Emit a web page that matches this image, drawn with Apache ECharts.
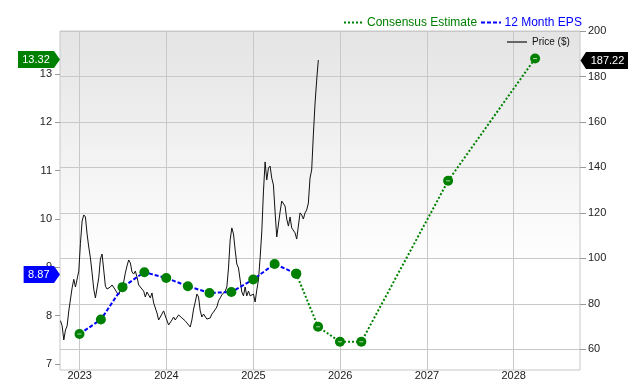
<!DOCTYPE html>
<html><head><meta charset="utf-8">
<script src="https://cdn.jsdelivr.net/npm/echarts@6/dist/echarts.min.js"></script>
<style>html,body{margin:0;padding:0;background:#fff}#c{width:640px;height:380px}</style>
</head><body><div id="c"></div>
<script>
// ---------- data ----------
const yearTicks = [2023, 2024, 2025, 2026, 2027, 2028];
const leftTicks = [7, 8, 9, 10, 11, 12, 13];
const rightTicks = [60, 80, 100, 120, 140, 160, 180, 200];

const epsDates = ['2022-12-31','2023-03-31','2023-06-30','2023-09-30','2023-12-31','2024-03-31','2024-06-30','2024-09-30','2024-12-31','2025-03-31','2025-06-30'];
const epsValues = [7.62, 7.92, 8.59, 8.90, 8.78, 8.61, 8.47, 8.49, 8.75, 9.07, 8.87];

const estDates = ['2025-06-30','2025-09-30','2025-12-31','2026-03-31','2027-03-31','2028-03-31'];
const estValues = [8.87, 7.77, 7.46, 7.46, 10.79, 13.32];

const priceStart = '2022-10-12'; // weekly closes
const priceValues = [
72.6, 70.3, 64.1, 68.5, 70.3, 76.9, 77.7, 87.0, 90.8, 87.4,
86.8, 94.4, 106.6, 116.4, 119.1, 118.2, 110.7, 105.0, 100.2, 93.6,
86.5, 82.6, 82.6, 91.4, 99.7, 101.9, 94.9, 87.8, 86.5, 86.1,
87.4, 88.3, 88.3, 86.1, 84.8, 83.9, 86.1, 86.5, 89.6, 93.6,
96.7, 99.3, 98.0, 94.0, 93.1, 94.4, 91.8, 88.3, 88.7, 86.5,
85.6, 83.0, 85.2, 85.2, 82.6, 84.8, 80.4, 80.0, 76.0, 72.9,
74.2, 74.7, 76.9, 74.7, 74.7, 70.7, 71.1, 72.9, 74.2, 72.9,
73.3, 75.1, 75.1, 73.8, 73.3, 72.5, 71.6, 71.1, 69.8, 72.9,
77.7, 80.8, 84.3, 83.0, 76.9, 74.2, 75.5, 75.1, 73.3, 72.5,
73.8, 75.5, 76.4, 76.0, 78.6, 81.3, 82.6, 83.9, 84.3, 85.6,
87.4, 95.8, 108.1, 113.4, 110.7, 103.7, 97.5, 95.8, 90.5, 85.2,
83.5, 87.4, 83.5, 85.6, 83.5, 84.3, 84.3, 80.8, 86.1, 90.5,
100.2, 111.6, 129.2, 142.4, 134.5, 139.7, 140.6, 135.3, 132.3, 120.4,
109.4, 109.8, 120.4, 125.2, 125.7, 123.0, 117.3, 114.2, 118.2, 113.4,
112.9, 111.2, 108.5, 108.1, 120.0, 119.1, 117.3, 120.0, 121.3, 124.3,
135.3, 138.9, 154.3, 167.9, 178.4, 187.22
];

const xMin = '2022-10-10';
const xMax = '2028-10-06';
const leftMin = 6.876, leftMax = 13.89;
const rightMin = 50.9, rightMax = 200;

const GREEN = '#008000', BLUE = '#0000ff';
const FONT = '"Liberation Sans", Arial, sans-serif';

// ---------- build ----------
const DAY = 86400000;
const ts = d => new Date(d + 'T00:00:00').getTime();
const t0 = ts(priceStart);
const priceData = priceValues.map((v, i) => [t0 + i * 7 * DAY, v]);
const epsData = epsDates.map((d, i) => [ts(d), epsValues[i]]);
const estData = estDates.map((d, i) => [ts(d), estValues[i]]);
const dashData = [epsData[0]].concat(estData.slice(1));
const yearTs = yearTicks.map(y => new Date(y, 0, 1).getTime());

const chart = echarts.init(document.getElementById('c'), null, {renderer: 'canvas'});
chart.setOption({
  animation: false,
  backgroundColor: '#fff',
  textStyle: {fontFamily: FONT},
  grid: {
    left: 60, right: 60, top: 31, bottom: 10, show: true,
    containLabel: false, outerBoundsMode: 'none',
    borderColor: '#c8c8c8', borderWidth: 1,
    backgroundColor: new echarts.graphic.LinearGradient(0, 0, 0, 1, [
      {offset: 0, color: '#e4e4e4'}, {offset: 0.7, color: '#ffffff'}, {offset: 1, color: '#ffffff'}])
  },
  xAxis: {
    type: 'value', min: ts(xMin), max: ts(xMax),
    axisLine: {show: false},
    axisTick: {show: false, customValues: yearTs},
    axisLabel: {customValues: yearTs, color: '#222', fontSize: 11, fontFamily: FONT, margin: 0,
      formatter: v => String(new Date(v).getFullYear())},
    splitLine: {show: true, lineStyle: {color: '#c8c8c8', width: 1}}
  },
  yAxis: [{
    type: 'value', position: 'left', min: leftMin, max: leftMax,
    axisLine: {show: false},
    axisTick: {show: true, length: 5, customValues: leftTicks, lineStyle: {color: '#999'}},
    axisLabel: {customValues: leftTicks, color: '#222', fontSize: 11, fontFamily: FONT, margin: 8},
    splitLine: {show: false}
  }, {
    type: 'value', position: 'right', min: rightMin, max: rightMax,
    axisLine: {show: false},
    axisTick: {show: true, length: 6, customValues: rightTicks, lineStyle: {color: '#999'}},
    axisLabel: {customValues: rightTicks, color: '#222', fontSize: 11, fontFamily: FONT, margin: 8},
    splitLine: {show: true, lineStyle: {color: '#c8c8c8', width: 1}}
  }],
  series: [{
    name: 'Price ($)', type: 'line', yAxisIndex: 1, data: priceData,
    symbol: 'none', lineStyle: {color: '#111', width: 1}, z: 2
  }, {
    name: '12 Month EPS', type: 'line', yAxisIndex: 0, data: epsData,
    symbol: 'circle', symbolSize: 10, showAllSymbol: true,
    itemStyle: {color: GREEN}, lineStyle: {color: BLUE, width: 2, type: [4, 2]}, z: 3
  }, {
    name: 'Consensus Estimate', type: 'line', yAxisIndex: 0, data: estData,
    symbol: 'circle', symbolSize: 10, showAllSymbol: true,
    itemStyle: {color: GREEN}, lineStyle: {color: GREEN, width: 2, type: [2, 2]}, z: 3
  }, {
    type: 'scatter', yAxisIndex: 0, data: dashData, silent: true,
    symbol: 'rect', symbolSize: [4, 1], itemStyle: {color: 'rgba(255,255,255,0.85)'}, z: 5
  }]
});

function leftFlag(val, color, label) {
  const y = Math.round(chart.convertToPixel({yAxisIndex: 0}, val)) + 0.5;
  const tw = label.length * 5.6;
  const x0 = 54 - tw - 8;
  return [{
    type: 'polygon', z: 100,
    shape: {points: [[x0, y - 8.5], [54, y - 8.5], [60, y], [54, y + 8.5], [x0, y + 8.5]]},
    style: {fill: color}
  }, {
    type: 'text', z: 101, x: (x0 + 54) / 2, y: y,
    style: {text: label, fill: '#fff', font: '11px ' + FONT, align: 'center', verticalAlign: 'middle'}
  }];
}
function rightFlag(val, color, label) {
  const y = Math.round(chart.convertToPixel({yAxisIndex: 1}, val)) + 0.5;
  const x0 = 580.5, x1 = 586, x2 = 628;
  return [{
    type: 'polygon', z: 100,
    shape: {points: [[x0, y], [x1, y - 8.5], [x2, y - 8.5], [x2, y + 8.5], [x1, y + 8.5]]},
    style: {fill: color}
  }, {
    type: 'text', z: 101, x: (x1 + x2) / 2 + 0.5, y: y,
    style: {text: label, fill: '#fff', font: '11px ' + FONT, align: 'center', verticalAlign: 'middle'}
  }];
}

const lastEst = estValues[estValues.length - 1];
const lastEps = epsValues[epsValues.length - 1];
const lastPrice = priceValues[priceValues.length - 1];

const graphics = [].concat(
  leftFlag(lastEst, GREEN, lastEst.toFixed(2)),
  leftFlag(lastEps, BLUE, lastEps.toFixed(2)),
  rightFlag(lastPrice, '#000', lastPrice.toFixed(2)),
  [
    {type: 'line', shape: {x1: 344, y1: 22.5, x2: 362, y2: 22.5}, style: {stroke: GREEN, lineWidth: 2, lineDash: [2, 2]}},
    {type: 'text', x: 367, y: 23, style: {text: 'Consensus Estimate', fill: GREEN, font: '12px ' + FONT, verticalAlign: 'middle'}},
    {type: 'line', shape: {x1: 481, y1: 22.5, x2: 501, y2: 22.5}, style: {stroke: BLUE, lineWidth: 2, lineDash: [4, 2]}},
    {type: 'text', x: 504.5, y: 23, style: {text: '12 Month EPS', fill: BLUE, font: '12px ' + FONT, verticalAlign: 'middle'}},
    {type: 'line', shape: {x1: 507, y1: 42, x2: 527, y2: 42}, style: {stroke: '#666', lineWidth: 2}},
    {type: 'text', x: 532, y: 42, style: {text: 'Price ($)', fill: '#111', font: '10px ' + FONT, verticalAlign: 'middle'}}
  ]
);
chart.setOption({graphic: graphics});
</script>
</body></html>
